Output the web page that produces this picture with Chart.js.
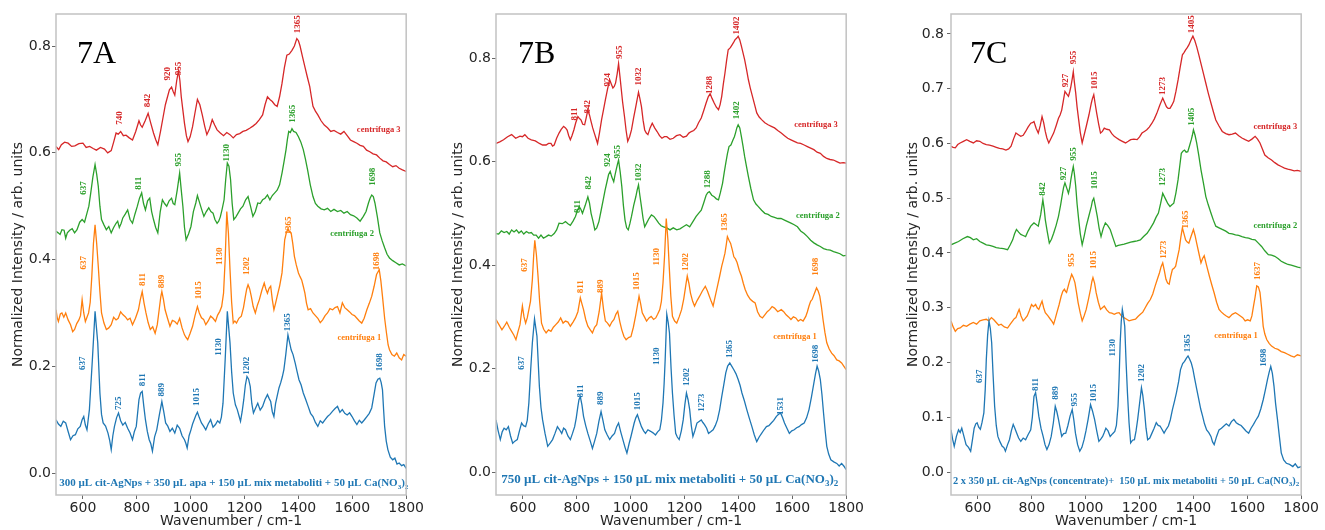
<!DOCTYPE html>
<html><head><meta charset="utf-8">
<script src="https://cdn.jsdelivr.net/npm/chart.js@4"></script>
<style>
html,body{margin:0;padding:0;background:#fff;}
body{width:1325px;height:530px;overflow:hidden;position:relative;}
canvas{position:absolute;top:0;}
</style></head><body>
<canvas id="cA" width="425" height="530" style="left:0px"></canvas>
<canvas id="cB" width="425" height="530" style="left:440px"></canvas>
<canvas id="cC" width="425" height="530" style="left:895px"></canvas>
<script>
// ---------- tick labels ----------
const xTicks = [600, 800, 1000, 1200, 1400, 1600, 1800];
const yTicksAB = [0.0, 0.2, 0.4, 0.6, 0.8];
const yTicksC = [0.0, 0.1, 0.2, 0.3, 0.4, 0.5, 0.6, 0.7, 0.8];
const seriesNames = ['sample', 'centrifuga 1', 'centrifuga 2', 'centrifuga 3'];

// ---------- Panel 7A ----------
const A_blue_wn = [500,509,518,527,536,545,554,563,572,581,590,597,603,609,615,624,635,645,655,663,669,675,684,693,699,705,711,717,725,732,740,748,757,766,775,784,791,798,808,814,820,826,832,839,846,852,858,866,874,884,893,900,907,915,923,932,941,950,959,968,977,982,987,994,1001,1007,1013,1019,1025,1032,1040,1048,1056,1065,1074,1083,1092,1100,1108,1114,1120,1128,1136,1146,1152,1158,1166,1173,1179,1185,1191,1197,1203,1209,1215,1221,1227,1233,1241,1249,1258,1267,1276,1285,1291,1297,1303,1309,1315,1321,1328,1334,1340,1346,1353,1361,1367,1373,1380,1388,1395,1402,1410,1418,1427,1436,1445,1454,1463,1472,1481,1490,1499,1508,1517,1527,1536,1545,1554,1563,1572,1581,1590,1599,1608,1617,1626,1635,1645,1654,1663,1672,1680,1688,1695,1702,1707,1712,1716,1720,1726,1732,1741,1750,1758,1766,1774,1783,1791,1800];
const A_blue_int = [.1,.092,.0875,.097,.094,.078,.0625,.07,.072,.083,.0875,.1,.106,.09,.081,.119,.2125,.303,.244,.15,.11,.094,.088,.075,.062,.044,.07,.0875,.104,.1125,.098,.09,.095,.084,.075,.0625,.078,.0875,.1375,.15,.153,.125,.1,.078,.0625,.055,.041,.068,.081,.11,.134,.115,.094,.088,.078,.084,.075,.09,.084,.07,.0625,.056,.047,.07,.081,.092,.1,.108,.114,.104,.094,.088,.081,.092,.1,.086,.091,.098,.094,.105,.131,.2125,.303,.244,.19,.15,.128,.119,.108,.097,.115,.1375,.165,.181,.176,.1625,.13,.1125,.122,.131,.118,.125,.138,.147,.14,.134,.115,.106,.13,.144,.16,.169,.18,.194,.222,.259,.245,.231,.222,.206,.19,.175,.165,.15,.138,.125,.112,.106,.095,.0875,.098,.094,.1,.106,.11,.116,.121,.125,.114,.119,.112,.109,.113,.106,.098,.091,.099,.094,.1,.106,.112,.122,.145,.169,.176,.178,.17,.156,.12,.0875,.06,.044,.03,.025,.028,.017,.019,.014,.016,.009];
const A_c1_wn = [500,505,509,516,522,529,536,545,554,562,569,577,585,591,597,603,609,615,621,627,633,639,645,651,657,663,669,678,687,696,705,714,723,731,740,748,757,766,775,784,795,806,813,820,827,834,842,850,859,868,876,883,889,893,899,905,914,923,932,941,950,959,968,977,983,989,998,1007,1016,1025,1032,1040,1048,1056,1065,1074,1083,1092,1100,1108,1115,1122,1128,1134,1140,1146,1152,1158,1164,1170,1179,1188,1196,1203,1208,1213,1219,1225,1232,1240,1248,1255,1264,1273,1279,1285,1291,1297,1303,1309,1315,1321,1330,1339,1344,1349,1355,1361,1367,1373,1379,1385,1392,1400,1406,1412,1418,1424,1430,1436,1445,1454,1463,1472,1481,1490,1499,1508,1517,1527,1536,1545,1554,1563,1572,1581,1590,1599,1608,1617,1626,1635,1644,1654,1663,1672,1681,1690,1700,1706,1712,1720,1727,1733,1738,1747,1756,1765,1774,1783,1791,1800];
const A_c1_int = [.306,.29,.284,.298,.3,.292,.3,.287,.278,.265,.269,.28,.287,.295,.325,.3,.284,.292,.3,.32,.369,.43,.465,.43,.387,.34,.3,.281,.269,.272,.278,.292,.287,.29,.302,.297,.293,.287,.29,.278,.29,.306,.325,.34,.318,.3,.282,.269,.274,.262,.278,.306,.33,.34,.325,.306,.29,.275,.286,.284,.279,.29,.272,.259,.254,.25,.262,.275,.295,.312,.3,.291,.288,.278,.285,.294,.29,.284,.296,.303,.312,.337,.4,.49,.45,.381,.32,.281,.285,.281,.29,.294,.31,.331,.345,.353,.345,.331,.312,.3,.315,.325,.342,.356,.345,.337,.346,.35,.325,.306,.318,.331,.35,.375,.405,.437,.45,.458,.452,.45,.43,.406,.39,.375,.368,.362,.35,.337,.318,.306,.308,.3,.295,.29,.282,.287,.295,.3,.308,.306,.31,.312,.3,.319,.31,.306,.302,.297,.295,.29,.285,.281,.29,.306,.318,.331,.35,.372,.381,.36,.331,.29,.262,.24,.231,.222,.219,.225,.216,.212,.222,.219];
const A_c2_wn = [500,508,515,522,530,536,542,551,560,569,578,588,597,606,615,622,629,637,645,651,657,663,669,678,687,696,705,714,723,729,735,742,748,757,766,775,784,793,802,810,818,825,832,840,848,855,862,870,878,887,895,903,911,920,929,935,941,950,959,965,971,977,983,992,1001,1010,1019,1025,1031,1040,1049,1058,1067,1075,1083,1090,1098,1104,1110,1117,1124,1130,1136,1142,1148,1154,1160,1168,1176,1185,1194,1204,1213,1222,1231,1240,1249,1258,1267,1276,1285,1294,1303,1312,1321,1330,1339,1347,1354,1359,1364,1370,1376,1382,1391,1400,1409,1418,1426,1434,1444,1454,1463,1472,1484,1496,1508,1520,1532,1545,1557,1569,1581,1593,1605,1617,1629,1641,1651,1660,1666,1672,1678,1684,1693,1702,1711,1720,1729,1738,1750,1762,1774,1786,1800];
const A_c2_int = [.453,.45,.447,.456,.455,.44,.45,.455,.458,.45,.456,.47,.475,.47,.487,.5,.525,.555,.578,.56,.537,.5,.475,.465,.456,.462,.45,.46,.468,.472,.46,.468,.478,.485,.493,.475,.468,.485,.5,.515,.525,.505,.493,.51,.515,.49,.475,.46,.45,.49,.512,.505,.5,.51,.515,.505,.503,.53,.562,.53,.5,.46,.437,.448,.462,.49,.506,.52,.51,.495,.481,.49,.497,.49,.487,.475,.468,.472,.48,.495,.512,.55,.581,.575,.55,.505,.475,.48,.487,.495,.5,.512,.518,.5,.481,.49,.506,.505,.512,.515,.521,.512,.52,.525,.53,.54,.562,.585,.606,.625,.64,.638,.645,.64,.638,.63,.62,.606,.588,.568,.54,.518,.505,.5,.495,.493,.496,.49,.494,.49,.492,.487,.49,.484,.482,.478,.472,.481,.49,.506,.515,.521,.518,.506,.48,.45,.435,.422,.41,.403,.398,.394,.39,.392,.388];
const A_c3_wn = [500,510,520,532,545,558,570,585,600,612,625,638,650,665,680,692,705,714,723,731,740,750,760,772,784,796,808,814,820,831,842,852,862,870,878,888,898,906,914,921,929,935,941,948,955,960,965,971,977,984,990,998,1007,1016,1025,1034,1043,1052,1060,1070,1080,1089,1098,1110,1122,1134,1146,1158,1170,1182,1194,1206,1219,1231,1243,1255,1267,1276,1285,1294,1303,1312,1321,1330,1339,1348,1357,1366,1376,1385,1394,1400,1406,1415,1424,1433,1442,1448,1454,1463,1472,1484,1496,1508,1520,1532,1545,1557,1569,1581,1593,1605,1617,1629,1641,1653,1665,1677,1690,1702,1714,1726,1738,1750,1762,1774,1786,1800];
const A_c3_int = [.612,.606,.615,.62,.618,.612,.613,.617,.618,.61,.612,.608,.605,.61,.607,.6,.604,.62,.637,.635,.64,.632,.633,.628,.624,.64,.66,.652,.648,.66,.674,.655,.637,.625,.615,.64,.668,.69,.705,.718,.723,.715,.708,.735,.754,.735,.705,.68,.655,.632,.621,.63,.649,.675,.7,.69,.671,.65,.634,.645,.662,.652,.643,.637,.632,.638,.634,.628,.634,.636,.64,.642,.646,.65,.655,.662,.671,.69,.705,.7,.696,.69,.687,.705,.73,.76,.783,.785,.792,.8,.814,.81,.8,.78,.761,.742,.724,.705,.687,.678,.671,.66,.652,.647,.64,.642,.638,.635,.64,.632,.624,.621,.618,.614,.612,.605,.602,.598,.596,.59,.585,.583,.578,.574,.576,.571,.568,.565];
const A_peaks = [
  ['740',735,.665,3],['842',842,.698,3],['920',913,.748,3],['955',955,.758,3],['1365',1396,.841,3],
  ['637',603,.534,2],['811',808,.543,2],['955',956,.587,2],['1130',1134,.6,2],['1365',1379,.673,2],['1698',1674,.555,2],
  ['637',603,.394,1],['811',820,.3625,1],['889',893,.359,1],['1015',1028,.3425,1],['1130',1107,.406,1],['1202',1206,.388,1],['1365',1364,.464,1],['1698',1690,.397,1],
  ['637',600,.206,0],['725',733,.131,0],['811',820,.175,0],['889',893,.156,0],['1015',1023,.1425,0],['1130',1104,.236,0],['1202',1209,.201,0],['1365',1361,.2825,0],['1698',1702,.2075,0]
];
const A_tags = [['centrifuga 3',1698,.643,3],['centrifuga 2',1599,.448,2],['centrifuga 1',1626,.254,1]];

// ---------- Panel 7B ----------
const B_blue_wn = [500,508,516,523,530,538,546,554,562,570,579,587,595,602,610,616,622,629,635,643,652,656,661,667,673,682,692,701,710,719,728,736,744,751,758,767,776,784,792,798,804,808,813,819,825,833,841,850,858,866,874,882,890,897,904,913,922,931,940,948,955,963,971,979,986,994,1001,1007,1013,1019,1025,1032,1040,1048,1055,1064,1074,1083,1092,1100,1108,1114,1120,1124,1128,1134,1139,1144,1150,1155,1161,1167,1173,1180,1188,1195,1201,1207,1213,1219,1225,1231,1238,1246,1254,1262,1268,1274,1282,1289,1297,1306,1314,1322,1330,1338,1346,1353,1360,1368,1375,1383,1391,1399,1406,1413,1422,1431,1440,1450,1459,1468,1477,1486,1495,1504,1513,1522,1531,1541,1549,1557,1564,1571,1580,1589,1598,1607,1616,1625,1634,1644,1653,1662,1671,1680,1686,1692,1698,1704,1710,1716,1722,1728,1735,1743,1754,1765,1774,1783,1791,1800];
const B_blue_int = [.101,.08,.063,.078,.085,.082,.088,.07,.056,.06,.063,.08,.095,.09,.088,.1,.134,.2,.25,.296,.263,.22,.166,.125,.101,.075,.05,.056,.063,.075,.088,.082,.075,.085,.082,.07,.063,.075,.088,.105,.127,.14,.146,.13,.108,.09,.075,.06,.046,.06,.075,.098,.117,.1,.082,.072,.063,.07,.075,.088,.095,.078,.063,.048,.037,.055,.069,.082,.095,.105,.111,.1,.088,.08,.075,.082,.079,.076,.072,.078,.082,.1,.134,.17,.217,.305,.29,.269,.2,.153,.11,.075,.068,.063,.08,.101,.13,.153,.14,.121,.09,.069,.08,.095,.098,.101,.096,.092,.085,.075,.078,.082,.09,.101,.12,.146,.17,.192,.205,.211,.205,.198,.19,.179,.168,.153,.138,.121,.105,.088,.072,.059,.068,.075,.082,.088,.09,.095,.1,.108,.112,.114,.105,.095,.085,.075,.08,.082,.086,.088,.092,.095,.105,.121,.145,.172,.19,.205,.195,.179,.15,.114,.08,.05,.035,.024,.02,.017,.012,.017,.012,.005];
const B_c1_wn = [500,511,522,531,540,549,558,566,574,581,589,598,604,610,616,622,628,635,640,644,650,656,662,669,677,686,695,704,713,722,731,740,749,758,767,776,786,795,804,813,819,825,833,841,850,858,866,874,883,892,899,906,914,922,930,938,945,952,960,967,975,983,992,1001,1010,1019,1025,1031,1037,1043,1051,1059,1068,1076,1085,1093,1100,1108,1114,1120,1126,1132,1138,1143,1149,1155,1163,1171,1180,1189,1197,1204,1210,1216,1222,1230,1237,1247,1256,1266,1277,1285,1292,1299,1306,1314,1322,1330,1338,1344,1350,1355,1359,1365,1371,1377,1383,1389,1395,1403,1411,1418,1425,1434,1444,1453,1462,1471,1480,1489,1498,1507,1516,1525,1534,1546,1559,1568,1577,1586,1595,1604,1613,1622,1631,1640,1650,1656,1662,1668,1674,1682,1690,1696,1702,1708,1714,1721,1728,1737,1746,1755,1765,1774,1783,1791,1800];
const B_c1_int = [.295,.285,.275,.282,.29,.28,.272,.265,.256,.27,.285,.321,.3,.288,.298,.314,.33,.372,.42,.448,.42,.379,.33,.288,.276,.269,.275,.272,.28,.285,.29,.298,.288,.292,.29,.282,.29,.298,.31,.337,.325,.314,.295,.282,.275,.269,.28,.285,.31,.346,.315,.292,.288,.282,.29,.295,.305,.311,.29,.275,.262,.256,.26,.262,.28,.304,.322,.34,.325,.308,.3,.292,.298,.301,.295,.298,.305,.314,.33,.366,.42,.49,.45,.398,.34,.301,.292,.288,.3,.314,.335,.359,.379,.365,.346,.33,.321,.332,.34,.35,.359,.35,.34,.33,.321,.34,.359,.378,.398,.41,.423,.44,.455,.448,.442,.43,.416,.412,.405,.39,.379,.365,.353,.342,.334,.33,.327,.31,.301,.298,.304,.31,.314,.32,.317,.31,.314,.31,.304,.3,.295,.3,.298,.292,.295,.292,.301,.31,.321,.33,.334,.345,.356,.35,.34,.32,.295,.27,.25,.238,.23,.225,.217,.215,.211,.205,.198];
const B_c2_wn = [500,510,520,530,540,549,558,567,576,585,594,603,613,622,631,640,649,658,667,676,686,695,705,716,725,734,746,758,767,776,786,795,802,809,815,821,831,841,847,853,860,867,874,882,890,898,905,912,918,924,930,937,941,946,951,955,961,967,973,979,985,991,997,1003,1011,1019,1024,1029,1034,1040,1046,1052,1060,1068,1077,1086,1095,1104,1113,1122,1134,1146,1158,1171,1183,1195,1207,1219,1231,1243,1252,1262,1271,1280,1286,1292,1301,1310,1318,1326,1333,1341,1347,1353,1359,1365,1372,1380,1385,1389,1394,1399,1405,1411,1417,1423,1430,1437,1446,1456,1465,1474,1486,1498,1510,1522,1534,1546,1558,1571,1583,1595,1607,1619,1631,1644,1656,1668,1680,1692,1704,1716,1728,1741,1753,1765,1777,1789,1800];
const B_c2_int = [.461,.46,.466,.463,.465,.46,.468,.464,.468,.462,.466,.46,.465,.462,.463,.458,.458,.452,.458,.452,.455,.458,.456,.461,.468,.481,.48,.484,.48,.477,.485,.494,.505,.513,.508,.5,.515,.532,.52,.5,.485,.468,.472,.484,.505,.526,.545,.561,.575,.581,.57,.561,.572,.584,.595,.603,.58,.552,.515,.487,.472,.468,.48,.494,.515,.532,.545,.555,.535,.513,.49,.474,.482,.49,.497,.494,.488,.481,.476,.474,.472,.468,.472,.468,.47,.474,.478,.474,.484,.494,.5,.506,.52,.535,.54,.542,.535,.532,.528,.526,.54,.558,.578,.597,.615,.629,.632,.642,.648,.655,.665,.671,.665,.648,.63,.61,.59,.571,.548,.526,.518,.513,.506,.5,.498,.494,.492,.49,.49,.487,.484,.481,.478,.474,.466,.461,.455,.448,.443,.439,.436,.432,.43,.429,.426,.424,.422,.418,.419];
const B_c3_wn = [500,514,528,543,558,573,589,598,607,619,631,646,661,673,686,695,704,710,716,725,734,742,751,758,764,770,776,782,789,796,804,810,816,822,829,835,841,847,853,859,865,871,877,884,892,899,906,914,922,928,934,939,944,950,955,960,964,970,977,983,989,996,1003,1011,1019,1024,1029,1034,1040,1046,1052,1058,1064,1072,1080,1089,1098,1107,1116,1125,1134,1146,1158,1170,1183,1195,1207,1216,1225,1234,1243,1252,1262,1271,1280,1288,1295,1302,1310,1318,1326,1332,1338,1344,1350,1356,1362,1370,1377,1382,1387,1393,1399,1405,1411,1417,1423,1430,1437,1444,1452,1460,1468,1477,1486,1498,1510,1522,1534,1546,1559,1571,1583,1595,1607,1619,1631,1644,1656,1668,1680,1692,1704,1716,1728,1740,1753,1765,1777,1789,1800];
const B_c3_int = [.635,.638,.642,.648,.652,.645,.649,.648,.652,.645,.642,.64,.635,.632,.632,.635,.635,.63,.632,.645,.655,.662,.668,.665,.661,.65,.642,.65,.661,.675,.687,.683,.68,.672,.671,.685,.7,.69,.677,.665,.655,.645,.635,.655,.681,.7,.719,.74,.758,.75,.742,.745,.752,.77,.789,.765,.745,.715,.687,.66,.639,.648,.661,.685,.706,.72,.734,.722,.706,.68,.661,.655,.652,.665,.674,.665,.658,.65,.645,.648,.648,.643,.645,.65,.652,.647,.649,.655,.658,.66,.665,.675,.684,.698,.713,.725,.731,.722,.713,.705,.7,.71,.726,.75,.771,.795,.816,.82,.826,.83,.835,.838,.842,.835,.823,.81,.797,.778,.758,.742,.726,.71,.694,.686,.681,.675,.671,.668,.665,.66,.655,.65,.645,.642,.639,.636,.635,.632,.629,.626,.623,.618,.616,.61,.606,.604,.603,.6,.597,.598,.597];
const B_peaks = [
  ['811',791,.692,3],['842',841,.706,3],['924',916,.758,3],['955',958,.811,3],['1032',1029,.7645,3],['1288',1292,.748,3],['1402',1395,.863,3],
  ['811',804,.513,2],['842',843,.559,2],['924',916,.603,2],['955',952,.619,2],['1032',1029,.579,2],['1288',1286,.566,2],['1402',1395,.699,2],
  ['637',607,.4,1],['811',813,.358,1],['889',889,.359,1],['1015',1023,.369,1],['1130',1098,.416,1],['1202',1205,.406,1],['1365',1350,.483,1],['1698',1686,.397,1],
  ['637',595,.211,0],['811',813,.157,0],['889',889,.143,0],['1015',1025,.137,0],['1130',1098,.224,0],['1202',1209,.184,0],['1273',1262,.134,0],['1365',1368,.238,0],['1531',1555,.128,0],['1698',1686,.229,0]
];
const B_tags = [['centrifuga 3',1688,.671,3],['centrifuga 2',1695,.495,2],['centrifuga 1',1610,.261,1]];

// ---------- Panel 7C ----------
const C_blue_wn = [500,506,512,520,528,534,540,548,556,565,573,580,586,592,597,603,609,615,622,627,631,636,641,646,651,656,662,668,674,682,690,696,702,710,717,724,731,737,743,751,759,768,777,786,796,802,808,814,820,826,834,842,849,856,864,872,880,887,893,899,905,911,918,926,934,942,950,956,962,970,978,986,994,1001,1009,1018,1025,1033,1041,1049,1056,1063,1069,1075,1083,1091,1100,1108,1114,1120,1124,1128,1132,1136,1140,1145,1150,1155,1161,1167,1174,1181,1187,1193,1200,1207,1212,1218,1224,1230,1238,1246,1254,1262,1269,1276,1283,1291,1299,1307,1314,1322,1330,1337,1345,1352,1360,1367,1374,1380,1386,1392,1398,1404,1412,1420,1427,1434,1441,1449,1457,1465,1471,1477,1486,1495,1504,1513,1522,1532,1541,1550,1559,1568,1577,1586,1595,1605,1614,1623,1632,1641,1650,1659,1667,1675,1681,1687,1693,1699,1705,1712,1719,1726,1735,1745,1757,1769,1778,1788,1800];
const C_blue_int = [.077,.06,.047,.065,.077,.072,.08,.065,.05,.045,.038,.06,.08,.088,.09,.082,.078,.09,.108,.15,.205,.25,.276,.262,.236,.18,.12,.085,.065,.055,.047,.045,.038,.05,.059,.075,.087,.08,.072,.062,.056,.062,.059,.068,.077,.1,.138,.145,.125,.102,.08,.065,.05,.041,.05,.065,.09,.12,.11,.096,.08,.065,.07,.071,.085,.102,.114,.095,.071,.05,.038,.045,.059,.075,.096,.123,.112,.096,.075,.056,.06,.065,.072,.08,.075,.065,.07,.074,.085,.12,.17,.236,.275,.297,.285,.266,.2,.145,.09,.053,.058,.059,.075,.096,.125,.154,.14,.114,.08,.059,.062,.071,.08,.09,.085,.084,.078,.071,.078,.084,.095,.114,.13,.145,.165,.187,.198,.202,.208,.212,.206,.199,.188,.172,.152,.132,.115,.102,.088,.077,.072,.065,.055,.05,.065,.077,.08,.084,.088,.084,.092,.096,.09,.087,.085,.08,.075,.071,.08,.087,.095,.102,.115,.132,.15,.169,.182,.193,.18,.157,.125,.096,.065,.035,.022,.016,.014,.01,.015,.008,.01];
const C_c1_wn = [500,508,516,525,534,546,558,570,583,595,607,619,631,640,650,659,668,677,686,698,710,720,729,735,741,747,753,760,768,775,783,791,799,806,814,820,826,832,838,844,850,860,869,875,881,887,893,901,909,915,921,925,929,938,948,954,960,966,972,980,987,994,1002,1010,1018,1023,1027,1033,1039,1047,1055,1062,1069,1078,1088,1097,1106,1115,1124,1133,1142,1152,1161,1173,1185,1194,1203,1212,1221,1230,1240,1249,1258,1266,1274,1280,1286,1292,1298,1304,1310,1316,1322,1328,1334,1340,1347,1353,1359,1365,1371,1377,1383,1391,1400,1406,1412,1420,1428,1434,1440,1450,1459,1468,1477,1486,1495,1504,1513,1522,1532,1544,1556,1565,1574,1583,1592,1601,1611,1617,1623,1629,1635,1641,1647,1653,1659,1665,1672,1681,1690,1702,1714,1726,1738,1750,1762,1774,1786,1800];
const C_c1_int = [.276,.265,.257,.262,.263,.268,.266,.27,.273,.27,.276,.278,.279,.276,.282,.278,.273,.268,.27,.265,.263,.27,.276,.28,.282,.29,.297,.285,.276,.28,.285,.295,.306,.302,.306,.3,.297,.305,.312,.3,.291,.285,.279,.275,.27,.28,.291,.305,.321,.33,.334,.33,.328,.345,.361,.355,.346,.328,.309,.29,.276,.285,.297,.315,.334,.348,.355,.345,.327,.31,.297,.3,.303,.296,.291,.29,.288,.29,.291,.285,.282,.279,.276,.278,.279,.284,.288,.292,.3,.308,.315,.325,.34,.352,.364,.375,.382,.368,.352,.345,.343,.358,.37,.372,.376,.39,.406,.428,.446,.435,.424,.42,.418,.43,.443,.432,.418,.4,.382,.39,.395,.375,.358,.342,.327,.31,.297,.292,.288,.285,.282,.288,.291,.288,.285,.282,.276,.278,.276,.285,.303,.32,.34,.338,.328,.3,.266,.252,.242,.235,.23,.226,.224,.22,.218,.215,.212,.21,.214,.212];
const C_c2_wn = [500,514,528,544,561,572,583,595,607,619,631,643,656,668,680,695,710,720,729,736,743,751,759,768,777,786,796,802,808,816,824,833,841,846,850,857,865,873,881,890,899,907,914,918,923,930,936,941,945,950,954,958,963,968,974,980,987,994,1002,1012,1021,1025,1030,1036,1043,1050,1057,1065,1073,1082,1091,1101,1112,1121,1130,1143,1155,1167,1179,1191,1203,1215,1228,1240,1252,1261,1270,1278,1286,1292,1298,1305,1313,1320,1327,1335,1343,1349,1355,1361,1367,1373,1379,1385,1392,1396,1400,1406,1412,1420,1428,1437,1446,1455,1465,1474,1483,1495,1507,1520,1532,1544,1556,1568,1580,1593,1605,1617,1629,1641,1653,1665,1678,1690,1702,1714,1726,1738,1751,1763,1775,1787,1800];
const C_c2_int = [.415,.418,.421,.426,.43,.428,.424,.426,.421,.418,.415,.414,.412,.41,.409,.408,.406,.415,.424,.435,.443,.438,.434,.432,.43,.44,.449,.452,.455,.452,.449,.47,.497,.48,.461,.44,.418,.425,.436,.45,.467,.488,.509,.52,.528,.518,.509,.52,.534,.548,.558,.545,.522,.49,.461,.435,.415,.43,.449,.468,.485,.495,.5,.485,.467,.445,.43,.445,.455,.45,.443,.428,.412,.414,.415,.416,.418,.42,.421,.422,.424,.43,.436,.445,.455,.465,.473,.49,.509,.503,.497,.49,.485,.488,.491,.51,.534,.558,.582,.586,.588,.584,.585,.595,.607,.615,.625,.615,.601,.578,.552,.528,.503,.488,.473,.46,.449,.446,.443,.44,.436,.435,.433,.432,.43,.428,.427,.425,.424,.418,.412,.404,.397,.396,.394,.39,.385,.382,.379,.378,.376,.374,.373];
const C_c3_wn = [500,508,516,525,534,546,558,570,583,595,607,619,631,643,656,668,680,692,704,714,723,732,741,750,759,768,777,786,796,802,808,816,824,831,838,844,850,856,863,872,881,890,899,905,911,917,923,930,936,941,945,950,954,958,963,968,974,980,987,994,1002,1012,1021,1025,1030,1035,1041,1048,1055,1062,1069,1078,1088,1097,1106,1115,1124,1136,1148,1158,1167,1179,1191,1200,1209,1218,1227,1236,1246,1255,1264,1275,1286,1293,1300,1306,1313,1320,1327,1335,1343,1351,1359,1365,1371,1377,1383,1390,1398,1405,1412,1420,1428,1437,1446,1455,1465,1474,1483,1495,1507,1520,1532,1544,1556,1568,1580,1592,1605,1617,1629,1638,1647,1656,1665,1677,1690,1702,1714,1726,1738,1750,1762,1774,1786,1800];
const C_c3_int = [.595,.593,.592,.598,.601,.604,.607,.604,.601,.605,.604,.6,.598,.597,.595,.593,.591,.59,.588,.59,.595,.608,.619,.616,.613,.615,.622,.63,.637,.638,.64,.628,.619,.632,.649,.638,.622,.61,.601,.61,.619,.632,.646,.652,.661,.678,.695,.69,.686,.695,.704,.718,.731,.712,.692,.667,.643,.62,.601,.615,.631,.652,.674,.682,.689,.673,.655,.636,.619,.622,.628,.626,.625,.618,.613,.61,.607,.604,.601,.604,.607,.608,.607,.612,.619,.622,.625,.63,.637,.645,.655,.67,.683,.675,.667,.664,.664,.67,.677,.695,.716,.74,.762,.766,.771,.775,.78,.788,.796,.788,.777,.762,.746,.728,.71,.692,.674,.658,.643,.632,.622,.618,.616,.617,.619,.614,.61,.607,.604,.608,.613,.608,.601,.59,.579,.574,.57,.565,.561,.558,.555,.553,.552,.55,.551,.549];
const C_peaks = [
  ['927',927,.715,3],['955',954,.757,3],['1015',1033,.715,3],['1273',1286,.705,3],['1405',1395,.818,3],
  ['842',841,.517,2],['927',920,.545,2],['955',954,.581,2],['1015',1033,.533,2],['1273',1285,.539,2],['1405',1395,.649,2],
  ['955',948,.387,1],['1015',1030,.387,1],['1273',1288,.406,1],['1365',1373,.461,1],['1637',1637,.367,1],
  ['637',607,.175,0],['811',814,.16,0],['889',887,.1445,0],['955',960,.132,0],['1015',1030,.1445,0],['1130',1100,.227,0],['1202',1209,.181,0],['1365',1380,.235,0],['1698',1659,.2085,0]
];
const C_tags = [['centrifuga 3',1704,.631,3],['centrifuga 2',1704,.449,2],['centrifuga 1',1558,.249,1]];

// ---------- styles ----------
const COLORS = ['#1f77b4', '#ff7f0e', '#2ca02c', '#d62728'];
const TXT = '#262626';

function pts(wn, v) { return wn.map((x, i) => ({x: x, y: v[i]})); }

function drawRich(ctx, segs, cx, cy, size) {
  const big = 'bold ' + size + 'px "Liberation Serif", serif';
  const small = 'bold ' + Math.round(size * 0.68) + 'px "Liberation Serif", serif';
  let total = 0;
  segs.forEach(s => { ctx.font = s[1] ? small : big; total += ctx.measureText(s[0]).width; });
  let x = cx - total / 2;
  ctx.textAlign = 'left'; ctx.textBaseline = 'alphabetic';
  segs.forEach(s => {
    ctx.font = s[1] ? small : big;
    ctx.fillText(s[0], x, cy + size * 0.35 + (s[1] ? size * 0.25 : 0));
    x += ctx.measureText(s[0]).width;
  });
}

function makeChart(id, series, yMin, yMax, yTicks, peaks, tags, panel, panelDx, note, noteSize, padRight, yTickPad) {
  const datasets = series.map((s, i) => ({
    label: seriesNames[i], data: pts(s[0], s[1]), borderColor: COLORS[i],
    borderWidth: 1.3, pointRadius: 0, fill: false, tension: 0
  }));
  const deco = {
    id: 'deco',
    afterDatasetsDraw(chart) {
      const ctx = chart.ctx, xs = chart.scales.x, ys = chart.scales.y, a = chart.chartArea;
      ctx.save();
      ctx.font = 'bold 9px "Liberation Serif", serif';
      ctx.textAlign = 'center'; ctx.textBaseline = 'middle';
      peaks.forEach(p => {
        ctx.save();
        ctx.translate(xs.getPixelForValue(p[1]), ys.getPixelForValue(p[2]));
        ctx.rotate(-Math.PI / 2);
        ctx.fillStyle = COLORS[p[3]];
        ctx.fillText(p[0], 0, 0);
        ctx.restore();
      });
      ctx.font = 'bold 8.5px "Liberation Serif", serif';
      tags.forEach(t => {
        ctx.fillStyle = COLORS[t[3]];
        ctx.fillText(t[0], xs.getPixelForValue(t[1]), ys.getPixelForValue(t[2]));
      });
      ctx.fillStyle = '#000';
      ctx.font = '32px "Liberation Serif", serif';
      ctx.textAlign = 'left'; ctx.textBaseline = 'alphabetic';
      ctx.fillText(panel, a.left + panelDx, a.top + 49);
      ctx.fillStyle = COLORS[0];
      drawRich(ctx, note[0], xs.getPixelForValue(note[1]), ys.getPixelForValue(note[2]), noteSize);
      ctx.strokeStyle = '#c2c2c2'; ctx.lineWidth = 1.5;
      ctx.strokeRect(a.left, a.top, a.right - a.left, a.bottom - a.top);
      ctx.restore();
    }
  };
  return new Chart(document.getElementById(id), {
    type: 'line',
    data: {datasets: datasets},
    options: {
      responsive: false, animation: false, events: [],
      layout: {padding: {left: 0, right: padRight, top: 14, bottom: 0}},
      plugins: {legend: {display: false}, tooltip: {enabled: false}},
      scales: {
        x: {
          type: 'linear', min: 500, max: 1800,
          afterBuildTicks: s => { s.ticks = xTicks.map(v => ({value: v})); },
          afterFit: s => { s.height = 35; },
          grid: {drawOnChartArea: false, drawTicks: true, tickLength: 4, color: '#666'},
          border: {display: false},
          ticks: {font: {family: 'DejaVu Sans', size: 14}, color: TXT, padding: 1, maxRotation: 0, autoSkip: false,
                  callback: v => String(v)},
          title: {display: true, text: 'Wavenumber / cm-1', font: {family: 'DejaVu Sans', size: 14}, color: TXT, padding: 0}
        },
        y: {
          type: 'linear', min: yMin, max: yMax,
          afterBuildTicks: s => { s.ticks = yTicks.map(v => ({value: v})); },
          afterFit: s => { s.width = 56; },
          grid: {drawOnChartArea: false, drawTicks: true, tickLength: 4, color: '#666'},
          border: {display: false},
          ticks: {font: {family: 'DejaVu Sans', size: 14}, color: TXT, padding: yTickPad, autoSkip: false,
                  callback: v => Number(v).toFixed(1)},
          title: {display: true, text: 'Normalized Intensity / arb. units', font: {family: 'DejaVu Sans', size: 14}, color: TXT, padding: {top: 10, bottom: 0}}
        }
      }
    },
    plugins: [deco]
  });
}

const sub = (t) => [t, true], nor = (t) => [t, false];
makeChart('cA',
  [[A_blue_wn, A_blue_int], [A_c1_wn, A_c1_int], [A_c2_wn, A_c2_int], [A_c3_wn, A_c3_int]],
  -0.041, 0.86, yTicksAB, A_peaks, A_tags, '7A', 21,
  [[nor('300 \u00b5L cit-AgNps + 350 \u00b5L apa + 150 \u00b5L mix metaboliti + 50 \u00b5L Ca(NO'), sub('3'), nor(')'), sub('2')], 1160, -0.0175],
  11, 12, 1);
makeChart('cB',
  [[B_blue_wn, B_blue_int], [B_c1_wn, B_c1_int], [B_c2_wn, B_c2_int], [B_c3_wn, B_c3_int]],
  -0.044, 0.885, yTicksAB, B_peaks, B_tags, '7B', 22,
  [[nor('750 \u00b5L cit-AgNps + 150 \u00b5L mix metaboliti + 50 \u00b5L Ca(NO'), sub('3'), nor(')'), sub('2')], 1145, -0.012],
  13, 13, 1);
makeChart('cC',
  [[C_blue_wn, C_blue_int], [C_c1_wn, C_c1_int], [C_c2_wn, C_c2_int], [C_c3_wn, C_c3_int]],
  -0.042, 0.8365, yTicksC, C_peaks, C_tags, '7C', 19,
  [[nor('2 x 350 \u00b5L cit-AgNps (concentrate)+  150 \u00b5L mix metaboliti + 50 \u00b5L Ca(NO'), sub('3'), nor(')'), sub('2')], 1150, -0.015],
  10.4, 14, 3);
</script>
</body></html>
